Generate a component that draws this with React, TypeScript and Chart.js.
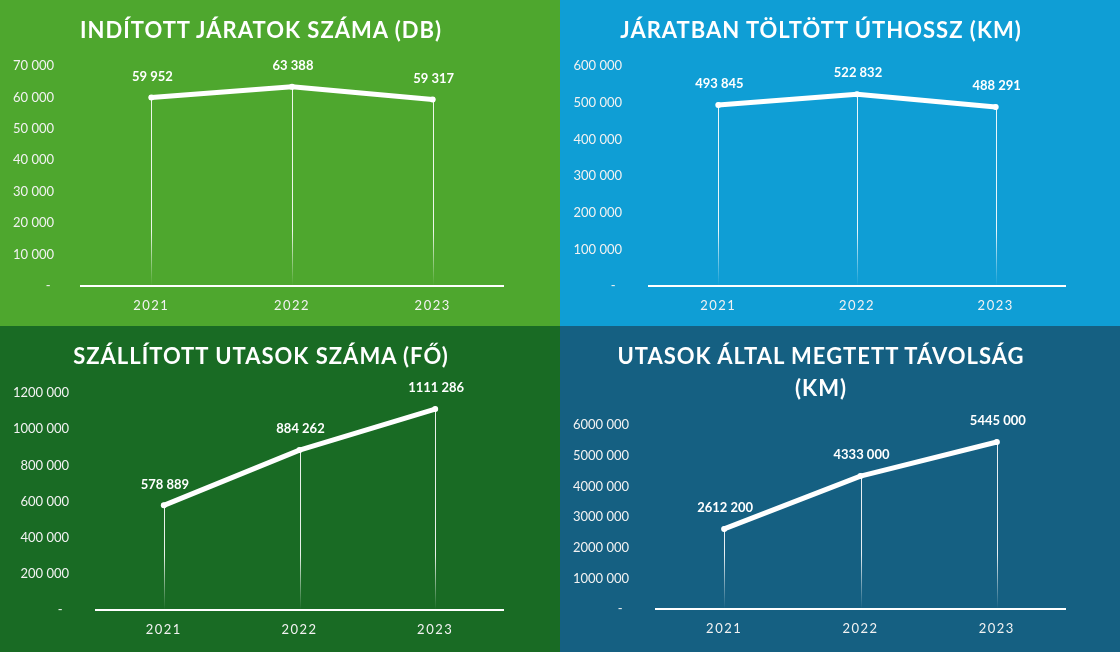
import React, { useEffect, useRef } from 'react';
import { Chart, registerables } from 'chart.js';

Chart.register(...registerables);

// ---------- data ----------
const years = ['2021', '2022', '2023'];
const launchedTrips = [59952, 63388, 59317];
const tripKm = [493845, 522832, 488291];
const passengers = [578889, 884262, 1111286];
const passengerKm = [2612200, 4333000, 5445000];
const axisMax = [70000, 600000, 1200000, 6000000];
const axisStep = [10000, 100000, 200000, 1000000];
const titles = [
  ['INDÍTOTT JÁRATOK SZÁMA (DB)'],
  ['JÁRATBAN TÖLTÖTT ÚTHOSSZ (KM)'],
  ['SZÁLLÍTOTT UTASOK SZÁMA (FŐ)'],
  ['UTASOK ÁLTAL MEGTETT TÁVOLSÁG', '(KM)'],
];
const zeroLabels = ['- ', '-\u2002', '-\u2002', '-\u2002'];

// ---------- layout / style ----------
const FONT = 'Lato, "Open Sans", sans-serif';
const PANEL_W = 560;
const PANEL_H = 326;
const panels = [
  { bg: '#4EA72E', x: 0, y: 0, area: { left: 81, right: 503, top: 66, bottom: 286 } },
  { bg: '#0F9ED5', x: 560, y: 0, area: { left: 89, right: 505, top: 66, bottom: 286 } },
  { bg: '#196B24', x: 0, y: 326, area: { left: 96, right: 503, top: 67, bottom: 284 } },
  { bg: '#156082', x: 560, y: 326, area: { left: 96, right: 505, top: 99, bottom: 283 } },
];
const seriesList = [launchedTrips, tripKm, passengers, passengerKm];

function fmt(v: number, zero = '-'): string {
  if (v === 0) return zero;
  const th = Math.floor(v / 1000);
  const rest = Math.round(v % 1000);
  return th === 0 ? String(rest) : `${th} ${String(rest).padStart(3, '0')}`;
}

const spacingPlugin = {
  id: 'spacing',
  beforeDraw(chart: any) {
    (chart.ctx as any).letterSpacing = '1.5px';
  },
  beforeDatasetsDraw(chart: any) {
    (chart.ctx as any).letterSpacing = '0px';
  },
};

const dropLinePlugin = {
  id: 'dropLines',
  beforeDatasetsDraw(chart: any) {
    const { ctx, chartArea } = chart;
    const meta = chart.getDatasetMeta(0);
    ctx.save();
    (ctx as any).letterSpacing = '0px';
    const g = ctx.createLinearGradient(0, chartArea.bottom - 55, 0, chartArea.bottom);
    g.addColorStop(0, 'rgba(255,255,255,0.9)');
    g.addColorStop(1, 'rgba(255,255,255,0)');
    ctx.strokeStyle = g;
    ctx.lineWidth = 1;
    meta.data.forEach((p: any) => {
      const x = Math.round(p.x) + 0.5;
      ctx.beginPath();
      ctx.moveTo(x, p.y);
      ctx.lineTo(x, chartArea.bottom);
      ctx.stroke();
    });
    ctx.restore();
  },
};

const valueLabelPlugin = {
  id: 'valueLabels',
  afterDatasetsDraw(chart: any) {
    const { ctx } = chart;
    const meta = chart.getDatasetMeta(0);
    const data = chart.data.datasets[0].data as number[];
    ctx.save();
    (ctx as any).letterSpacing = '0px';
    ctx.font = `bold 13px ${FONT}`;
    ctx.fillStyle = '#ffffff';
    ctx.textAlign = 'center';
    ctx.textBaseline = 'middle';
    meta.data.forEach((p: any, i: number) => {
      ctx.fillText(fmt(data[i]), p.x + 1, p.y - 21);
    });
    ctx.restore();
  },
};

function Panel({ idx }: { idx: number }) {
  const ref = useRef<HTMLCanvasElement>(null);
  const spec = panels[idx];
  useEffect(() => {
    const { area } = spec;
    const chart = new Chart(ref.current as HTMLCanvasElement, {
      type: 'line',
      data: {
        labels: years,
        datasets: [
          {
            data: seriesList[idx],
            borderColor: '#ffffff',
            borderWidth: 5,
            borderCapStyle: 'round',
            borderJoinStyle: 'round',
            pointRadius: 3,
            pointBackgroundColor: '#ffffff',
            pointBorderWidth: 0,
            tension: 0,
            fill: false,
          } as any,
        ],
      },
      options: {
        responsive: false,
        animation: false,
        events: [],
        layout: { padding: { left: 0, top: area.top, right: PANEL_W - area.right, bottom: 0 } },
        plugins: {
          legend: { display: false },
          title: { display: false },
          tooltip: { enabled: false },
        },
        scales: {
          x: {
            offset: true,
            grid: { display: false, drawTicks: false },
            border: { display: true, color: '#ffffff', width: 2 },
            ticks: { color: '#f2f2f2', font: { family: FONT, size: 13 }, padding: 12 },
            afterFit: (s: any) => {
              s.height = PANEL_H - area.bottom;
            },
          },
          y: {
            min: 0,
            max: axisMax[idx],
            grid: { display: false, drawTicks: false },
            border: { display: false },
            ticks: {
              z: 1,
              stepSize: axisStep[idx],
              color: '#f2f2f2',
              font: { family: FONT, size: 13 },
              padding: 27,
              callback: (v: any) => fmt(Number(v), zeroLabels[idx]),
            },
            afterFit: (s: any) => {
              s.width = area.left;
            },
          },
        },
      } as any,
      plugins: [spacingPlugin, dropLinePlugin, valueLabelPlugin],
    });
    return () => chart.destroy();
  }, []);

  return (
    <div
      style={{
        position: 'absolute',
        left: spec.x,
        top: spec.y,
        width: PANEL_W,
        height: PANEL_H,
        background: spec.bg,
        overflow: 'hidden',
      }}
    >
      <canvas
        ref={ref}
        width={PANEL_W}
        height={PANEL_H}
        style={{ position: 'absolute', left: 0, top: 0, width: PANEL_W, height: PANEL_H }}
      />
      <div
        style={{
          position: 'absolute',
          left: 0,
          top: 14,
          width: 522,
          textAlign: 'center',
          color: '#ffffff',
          fontFamily: FONT,
          fontWeight: 700,
          fontSize: 22,
          letterSpacing: '1px',
          lineHeight: '32px',
          whiteSpace: 'nowrap',
        }}
      >
        {titles[idx].map((t, i) => (
          <div key={i}>{t}</div>
        ))}
      </div>
    </div>
  );
}

export default function App() {
  useEffect(() => {
    document.body.style.margin = '0';
  }, []);
  return (
    <div style={{ position: 'absolute', left: 0, top: 0, width: 1120, height: 652, overflow: 'hidden' }}>
      {panels.map((_, i) => (
        <Panel key={i} idx={i} />
      ))}
    </div>
  );
}
